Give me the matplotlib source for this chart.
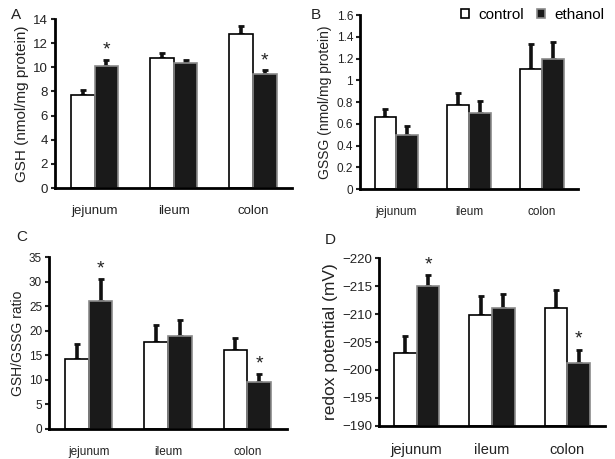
import matplotlib
matplotlib.use("Agg")
import matplotlib.pyplot as plt
from matplotlib.patches import Patch
import numpy as np

plt.rcParams['font.family'] = ['Liberation Sans', 'DejaVu Sans']

# tissues on the x axis
tissues = ['jejunum', 'ileum', 'colon']

# panel A - GSH (nmol/mg protein)
gsh_control = [7.7, 10.8, 12.75]
gsh_control_sem = [0.4, 0.4, 0.65]
gsh_ethanol = [10.1, 10.4, 9.45]
gsh_ethanol_sem = [0.5, 0.25, 0.35]

# panel B - GSSG (nmol/mg protein)
gssg_control = [0.66, 0.77, 1.10]
gssg_control_sem = [0.08, 0.11, 0.23]
gssg_ethanol = [0.50, 0.70, 1.20]
gssg_ethanol_sem = [0.08, 0.11, 0.15]

# panel C - GSH/GSSG ratio
ratio_control = [14.3, 17.7, 16.0]
ratio_control_sem = [2.9, 3.4, 2.6]
ratio_ethanol = [26.1, 19.0, 9.6]
ratio_ethanol_sem = [4.5, 3.1, 1.5]

# panel D - redox potential (mV)
eh_control = [-203.0, -209.8, -211.0]
eh_control_sem = [3.0, 3.5, 3.2]
eh_ethanol = [-215.0, -211.0, -201.2]
eh_ethanol_sem = [2.0, 2.5, 2.3]

# significance stars (index of tissue, y of star)
stars_a = [(0, 11.4), (2, 10.5)]
stars_c = [(0, 32.5), (2, 13.2)]
stars_d = [(0, -218.7), (2, -205.6)]

fig = plt.figure(figsize=(6.15, 4.59), dpi=100)

w = 0.3
x = np.arange(len(tissues))


def panel(rect, ctrl, ctrl_sem, eth, eth_sem, ylim, yticks, ylabel, letter,
          letter_pos, stars, inverted=False, base=0, lab_size=10, tick_size=8,
          xlab_size=9):
    ax = fig.add_axes(rect)
    hc = [v - base for v in ctrl]
    he = [v - base for v in eth]
    ax.bar(x - w / 2, hc, w, bottom=base, color='white', edgecolor='black',
           linewidth=1.2, zorder=2)
    ax.bar(x + w / 2, he, w, bottom=base, color='#1a1a1a', edgecolor='#8a8a8a',
           linewidth=1.2, zorder=2)
    if inverted:
        ec = [ctrl_sem, [0] * 3]
        ee = [eth_sem, [0] * 3]
    else:
        ec = [[0] * 3, ctrl_sem]
        ee = [[0] * 3, eth_sem]
    ax.errorbar(x - w / 2, ctrl, yerr=ec, fmt='none', ecolor='#111111',
                elinewidth=2.6, capsize=2, capthick=2, zorder=1)
    ax.errorbar(x + w / 2, eth, yerr=ee, fmt='none', ecolor='#111111',
                elinewidth=2.6, capsize=2, capthick=2, zorder=1)
    for i, ys in stars:
        ax.text(x[i] + w / 2, ys, '*', ha='center', va='center',
                fontsize=14, color='#222222')
    ax.set_xlim(-0.5, 2.5)
    ax.set_ylim(*ylim)
    ax.set_yticks(yticks)
    ax.set_xticks(x)
    ax.set_xticklabels(tissues, fontsize=xlab_size, color='#222222')
    ax.tick_params(axis='x', length=0, pad=12)
    ax.tick_params(axis='y', length=3, width=1.5, labelsize=tick_size,
                   colors='#222222', pad=2)
    for s in ['top', 'right']:
        ax.spines[s].set_visible(False)
    for s in ['left', 'bottom']:
        ax.spines[s].set_linewidth(2)
    ax.set_ylabel(ylabel, fontsize=lab_size, color='#222222', labelpad=3)
    fig.text(letter_pos[0], letter_pos[1], letter, fontsize=11, color='#222222',
             ha='left', va='center')
    return ax


panel([0.0894, 0.5904, 0.386, 0.368], gsh_control, gsh_control_sem,
      gsh_ethanol, gsh_ethanol_sem, (0, 14), range(0, 15, 2),
      'GSH (nmol/mg protein)', 'A', (0.018, 0.968), stars_a,
      lab_size=11, tick_size=9.5, xlab_size=9.5)

axb = panel([0.5854, 0.5882, 0.355, 0.379], gssg_control, gssg_control_sem,
            gssg_ethanol, gssg_ethanol_sem, (0, 1.6),
            [0, 0.2, 0.4, 0.6, 0.8, 1.0, 1.2, 1.4, 1.6],
            'GSSG (nmol/mg protein)', 'B', (0.505, 0.968), [], lab_size=10,
            tick_size=8.5, xlab_size=8.5)
axb.set_yticklabels(['0', '0.2', '0.4', '0.6', '0.8', '1', '1.2', '1.4', '1.6'])

panel([0.0797, 0.0654, 0.387, 0.3746], ratio_control, ratio_control_sem,
      ratio_ethanol, ratio_ethanol_sem, (0, 35), range(0, 36, 5),
      'GSH/GSSG ratio', 'C', (0.027, 0.484), stars_c, lab_size=10,
      tick_size=8.5, xlab_size=8.5)

axd = panel([0.6163, 0.0719, 0.3674, 0.366], eh_control, eh_control_sem,
            eh_ethanol, eh_ethanol_sem, (-190, -220), range(-190, -221, -5),
            'redox potential (mV)', 'D', (0.528, 0.477), stars_d,
            inverted=True, base=-190, lab_size=12.5, tick_size=9.5,
            xlab_size=10.5)
axd.set_yticklabels(['\u2212%d' % abs(v) for v in range(-190, -221, -5)])

handles = [Patch(facecolor='white', edgecolor='black', linewidth=1.2),
           Patch(facecolor='#1a1a1a', edgecolor='#8a8a8a', linewidth=1.2)]
fig.legend(handles, ['control', 'ethanol'], loc='center',
           bbox_to_anchor=(0.866, 0.967), ncol=2, frameon=False,
           handlelength=0.55, handleheight=0.55, handletextpad=0.6,
           columnspacing=0.8, fontsize=11)

fig.savefig('out.png', dpi=100)
